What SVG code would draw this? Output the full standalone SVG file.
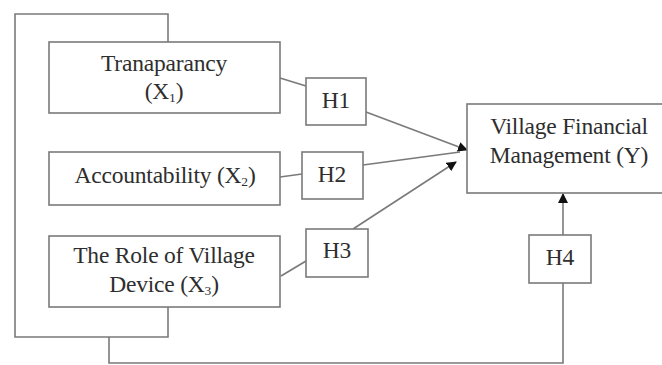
<svg xmlns="http://www.w3.org/2000/svg" width="662" height="365" viewBox="0 0 662 365">
<defs>
<style>
.box{fill:#fff;stroke:#7a7a7a;stroke-width:1.6}
.ln{fill:none;stroke:#7a7a7a;stroke-width:1.6}
.t{font-family:"Liberation Serif","Times New Roman",serif;font-size:23.5px;fill:#2e2e2e;text-anchor:middle;letter-spacing:-0.2px}
.sub{font-size:13.5px}
</style>
<marker id="ah" viewBox="0 0 10 10" refX="9" refY="5" markerWidth="10" markerHeight="10" markerUnits="userSpaceOnUse" orient="auto">
<path d="M0,0 L10,5 L0,10 z" fill="#111"/>
</marker>
</defs>
<rect width="662" height="365" fill="#fff"/>
<g id="connectors">
<polyline class="ln" points="168,42 168,14 15,14 15,337 168,337 168,307"/>
<polyline class="ln" points="109,337 109,363 563,363 563,283"/>
<line class="ln" x1="280" y1="78" x2="306" y2="86"/>
<line class="ln" x1="280" y1="177" x2="302" y2="174"/>
<line class="ln" x1="281" y1="276" x2="306" y2="261"/>
<line class="ln" x1="366" y1="112" x2="467" y2="150" marker-end="url(#ah)"/>
<line class="ln" x1="363" y1="165" x2="460" y2="152"/>
<line class="ln" x1="353" y1="229" x2="456" y2="162" marker-end="url(#ah)"/>
<line class="ln" x1="563" y1="235" x2="563" y2="194" marker-end="url(#ah)"/>
</g>
<g id="x1">
<rect class="box" x="49" y="42" width="231" height="71"/>
<text class="t" x="164" y="71">Tranaparancy</text>
<text class="t" x="164" y="99">(X<tspan class="sub" dy="3">1</tspan><tspan dy="-3">)</tspan></text>
</g>
<g id="x2">
<rect class="box" x="49" y="152" width="231" height="53"/>
<text class="t" x="165" y="183">Accountability (X<tspan class="sub" dy="3">2</tspan><tspan dy="-3">)</tspan></text>
</g>
<g id="x3">
<rect class="box" x="49" y="236" width="231" height="71"/>
<text class="t" x="164" y="263">The Role of Village</text>
<text class="t" x="164" y="292">Device (X<tspan class="sub" dy="3">3</tspan><tspan dy="-3">)</tspan></text>
</g>
<g id="h1">
<rect class="box" x="306" y="78" width="60" height="47"/>
<text class="t" x="336" y="108">H1</text>
</g>
<g id="h2">
<rect class="box" x="302" y="152" width="61" height="47"/>
<text class="t" x="332" y="182">H2</text>
</g>
<g id="h3">
<rect class="box" x="306" y="229" width="62" height="48"/>
<text class="t" x="337" y="258">H3</text>
</g>
<g id="h4">
<rect class="box" x="529" y="235" width="62" height="48"/>
<text class="t" x="560" y="265">H4</text>
</g>
<g id="y">
<rect class="box" x="467" y="104" width="210" height="89"/>
<text class="t" x="569" y="134">Village Financial</text>
<text class="t" x="569" y="163">Management (Y)</text>
</g>
</svg>
